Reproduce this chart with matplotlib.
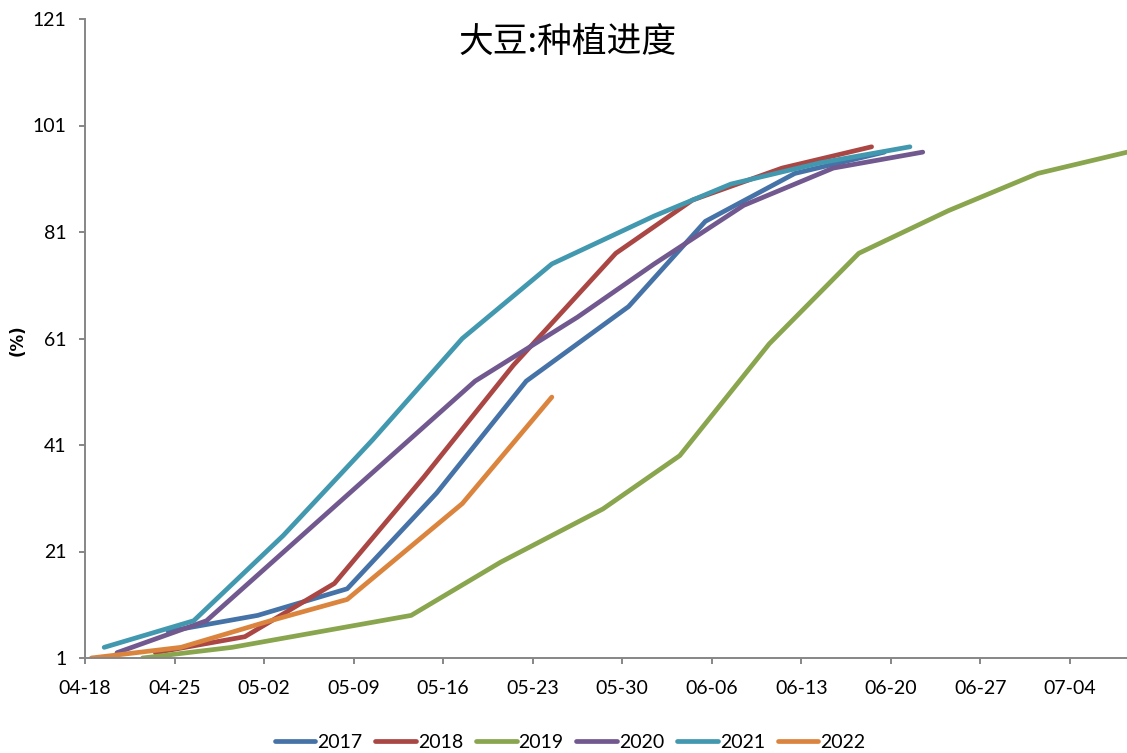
import matplotlib
matplotlib.use("Agg")
import matplotlib.pyplot as plt
import matplotlib.dates as mdates
import pandas as pd

# soybean planting progress, % planted, by report date
years = ["2017", "2018", "2019", "2020", "2021", "2022"]
colors = ["#4572A7", "#AA4643", "#89A54E", "#71588F", "#4198AF", "#DB843D"]

dates_2017 = ["04-24", "05-01", "05-08", "05-15", "05-22", "05-30", "06-05", "06-12", "06-19"]
vals_2017 = [6, 9, 14, 32, 53, 67, 83, 92, 96]

dates_2018 = ["04-23", "04-30", "05-07", "05-14", "05-21", "05-29", "06-04", "06-11", "06-18"]
vals_2018 = [2, 5, 15, 35, 56, 77, 87, 93, 97]

dates_2019 = ["04-22", "04-29", "05-06", "05-13", "05-20", "05-28", "06-03", "06-10",
              "06-17", "06-24", "07-01", "07-08"]
vals_2019 = [1, 3, 6, 9, 19, 29, 39, 60, 77, 85, 92, 96]

dates_2020 = ["04-20", "04-27", "05-04", "05-11", "05-18", "05-26", "06-01", "06-08", "06-15", "06-22"]
vals_2020 = [2, 8, 23, 38, 53, 65, 75, 86, 93, 96]

dates_2021 = ["04-19", "04-26", "05-03", "05-10", "05-17", "05-24", "06-01", "06-07", "06-14", "06-21"]
vals_2021 = [3, 8, 24, 42, 61, 75, 84, 90, 94, 97]

dates_2022 = ["04-18", "04-25", "05-02", "05-08", "05-17", "05-24"]
vals_2022 = [1, 3, 8, 12, 30, 50]

all_dates = [dates_2017, dates_2018, dates_2019, dates_2020, dates_2021, dates_2022]
all_vals = [vals_2017, vals_2018, vals_2019, vals_2020, vals_2021, vals_2022]

y_ticks = [1, 21, 41, 61, 81, 101, 121]
x_start = "04-18"
base_year = "2022-"


def to_dt(md):
    # each point sits in the middle of its day on the date axis
    return pd.to_datetime([base_year + d for d in md]) + pd.Timedelta(hours=12)


plt.rcParams["font.family"] = ["Lato", "DejaVu Sans"]

fig = plt.figure(figsize=(11.27, 7.53), dpi=100)
ax = fig.add_axes([85 / 1127, 95 / 753, 1 - 85 / 1127, 639 / 753])

for yr, c, d, v in zip(years, colors, all_dates, all_vals):
    ax.plot(to_dt(d), v, color=c, lw=3.4, solid_capstyle="round", label=yr)

start = pd.Timestamp(base_year + x_start)
ax.set_xlim(start, start + pd.Timedelta(days=81.47))
ax.set_ylim(1, 121)
ax.set_yticks(y_ticks)
ax.set_xticks(pd.date_range(start, periods=12, freq="7D"))
ax.xaxis.set_major_formatter(mdates.DateFormatter("%m-%d"))

for s in ["top", "right"]:
    ax.spines[s].set_visible(False)
for s in ["left", "bottom"]:
    ax.spines[s].set_color("#868686")
    ax.spines[s].set_linewidth(1.4)
ax.tick_params(axis="both", colors="#868686", width=1.4, length=4.5, labelcolor="black",
               labelsize=14)
ax.tick_params(axis="x", pad=11)
ax.tick_params(axis="y", pad=9)

fig.text(0.504, 0.944, "大豆:种植进度", ha="center", va="center", fontsize=25,
         family=["Noto Sans CJK SC", "DejaVu Sans"])
fig.text(0.016, 0.548, "(%)", rotation=90, ha="center", va="center", fontsize=12,
         fontweight="bold", family=["DejaVu Sans"])

fig.legend(loc="center", bbox_to_anchor=(570 / 1127, 11 / 753), ncol=6, frameon=False,
           fontsize=14, handlelength=2.1, handletextpad=0.1, columnspacing=0.65)

fig.savefig("out.png", dpi=100)
